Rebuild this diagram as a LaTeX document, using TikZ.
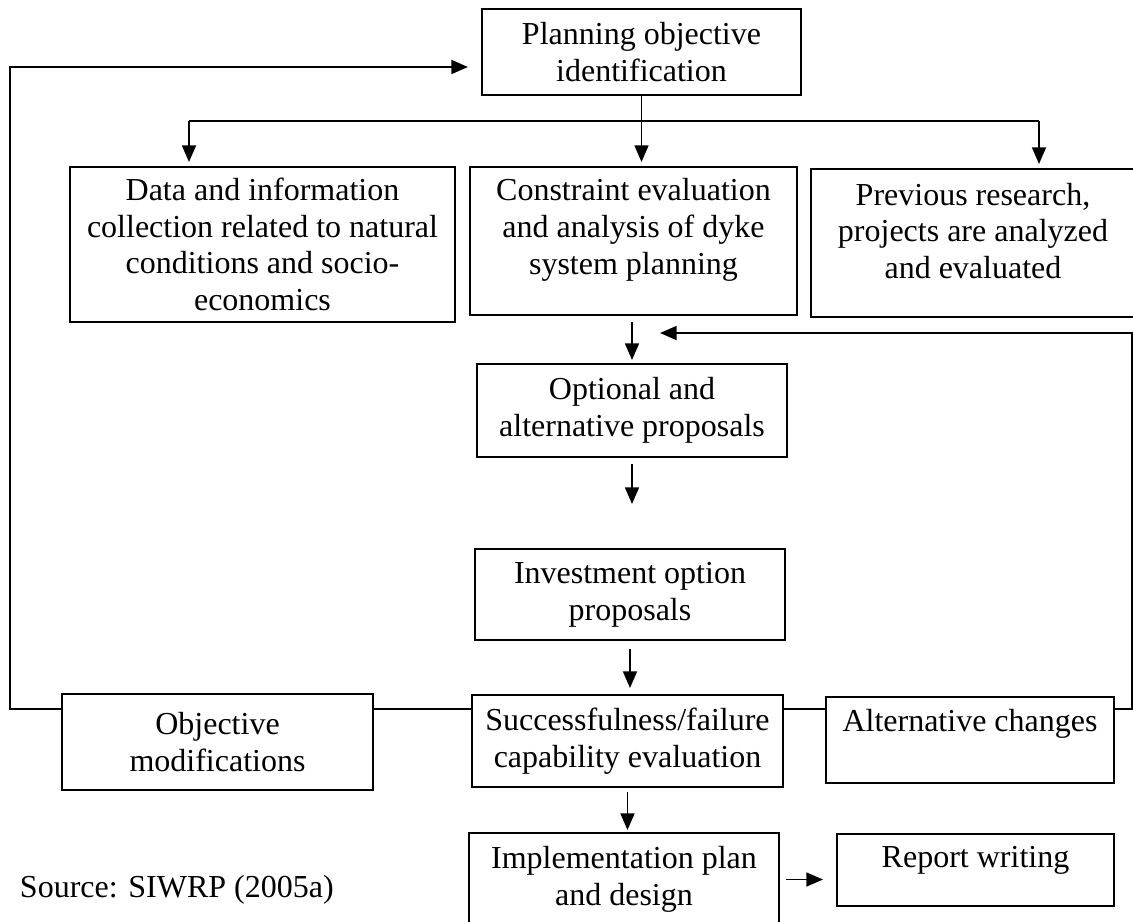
\documentclass[tikz,border=0pt]{standalone}
\usepackage{fontspec}
\setmainfont{Liberation Serif}
\usetikzlibrary{arrows.meta}
\begin{document}
\begin{tikzpicture}[x=0.75pt,y=-0.75pt,
  every node/.style={font=\fontsize{24pt}{27.5pt}\selectfont, inner sep=0pt, outer sep=0pt},
  sz/.style 2 args={minimum width=#1*0.75pt, minimum height=#2*0.75pt},
  box/.style={draw, line width=1.6pt, anchor=north west, align=center},
  txt/.style={align=center},
  conn/.style={line width=1.3pt},
  arr/.style={conn, -{Triangle[length=12.5pt,width=10.5pt]}}]
\useasboundingbox (0,0) rectangle (1133,922);
\clip (0,0) rectangle (1133,922);

% boxes
\node[box, sz={319}{86}] (A) at (482,9) {Planning objective\\identification};
\node[box, sz={385}{155}] (B) at (70,167) {Data and information\\collection related to natural\\conditions and socio-\\economics};
\node[box, sz={327}{148}] (C) at (470,167) {};
\node[txt] (tC) at (633.5,230) {Constraint evaluation\\and analysis of dyke\\system planning};
\node[box, sz={325}{148}] (D) at (811,169) {};
\node[txt] (tD) at (973,231) {Previous research,\\projects are analyzed\\and evaluated};
\node[box, sz={310}{93}] (E) at (477,364) {Optional and\\alternative proposals};
\node[box, sz={310}{91}] (F) at (475,549) {Investment option\\proposals};
\node[box, sz={311}{96}] (G) at (62,694) {Objective\\modifications};
\node[box, sz={311}{92}] (H) at (472,695) {Successfulness/failure\\capability evaluation};
\node[box, sz={288}{86}] (I) at (826,697) {};
\node[txt] (tI) at (970,724) {Alternative changes};
\node[box, sz={310}{93}] (J) at (469,833) {Implementation plan\\and design};
\node[box, sz={277}{72}] (K) at (837,834) {};
\node[txt] (tK) at (975.5,860) {Report writing};
\node[anchor=west] (src) at (20,890) {Source: SIWRP (2005a)};

% helper coordinates
\coordinate (row) at (0,709);
\coordinate (bl) at (189,121);
\coordinate (br) at (1039,121);
\coordinate (lc1) at (10,709);
\coordinate (lc2) at (10,67);
\coordinate (aIn) at (468,67);
\coordinate (fbR) at (1132,333);
\coordinate (fbEnd) at (660,333);

% top branching
\draw[conn] (A.south) -- (A.south |- bl);
\draw[conn] (bl) -- (br);
\draw[arr, shorten >=3.75pt] (bl) -- (bl |- B.north);
\draw[arr, shorten >=3.75pt] (A.south |- bl) -- (A.south |- C.north);
\draw[arr, shorten >=3.75pt] (br) -- (br |- D.north);

% main chain
\draw[arr, shorten <=5.25pt, shorten >=3pt] (C.south -| E.north) -- (E.north);
\draw[arr, shorten <=5.25pt, shorten >=33.75pt] (E.south) -- (E.south |- F.north);
\draw[arr, shorten <=6.75pt, shorten >=5.25pt] (F.south) -- (F.south |- H.north);
\draw[arr, shorten <=3.75pt, shorten >=2.25pt] (H.south) -- (H.south |- J.north);
\draw[arr, shorten <=5.25pt, shorten >=10.5pt] (J.east) -- (J.east -| K.west);

% evaluation row
\draw[conn] (G.east |- row) -- (H.west |- row);
\draw[conn] (H.east |- row) -- (I.west |- row);

% feedback loops
\draw[arr] (G.west |- row) -- (lc1) -- (lc2) -- (aIn);
\draw[arr] (I.east |- row) -- (fbR |- row) -- (fbR) -- (fbEnd);
\end{tikzpicture}
\end{document}
